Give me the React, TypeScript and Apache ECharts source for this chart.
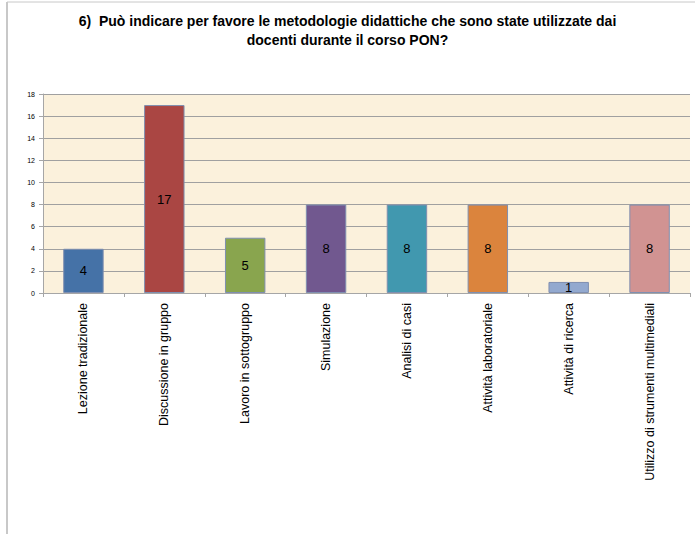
import React, { useEffect, useRef } from "react";
import * as echarts from "echarts";

const categories = [
  "Lezione tradizionale",
  "Discussione in gruppo",
  "Lavoro in sottogruppo",
  "Simulazione",
  "Analisi di casi",
  "Attività laboratoriale",
  "Attività di ricerca",
  "Utilizzo di strumenti multimediali",
];
const values = [4, 17, 5, 8, 8, 8, 1, 8];
const barColors = ["#4572A7", "#AA4643", "#89A54E", "#71588F", "#4198AF", "#DB843D", "#93A9CF", "#D19392"];
const titleText = "6)  Può indicare per favore le metodologie didattiche che sono state utilizzate dai\ndocenti durante il corso PON?";

export default function App() {
  const ref = useRef<HTMLDivElement>(null);
  useEffect(() => {
    const chart = echarts.init(ref.current!, null, { renderer: "svg" });
    chart.setOption({
      animation: false,
      backgroundColor: "#ffffff",
      title: {
        text: titleText,
        left: "center",
        top: 6,
        textStyle: { fontFamily: "Liberation Sans", fontSize: 14, fontWeight: "bold", color: "#000", lineHeight: 19 },
      },
      graphic: [
        { type: "line", shape: { x1: 7, y1: 2, x2: 7, y2: 534 }, style: { stroke: "#C8C8C8", lineWidth: 2 } },
        { type: "line", shape: { x1: 7, y1: 2, x2: 695, y2: 2 }, style: { stroke: "#C8C8C8", lineWidth: 1 } },
      ],
      grid: { left: 43, right: 5, top: 94, bottom: 241, backgroundColor: "#FBF1DC", show: true, borderWidth: 0 },
      xAxis: {
        type: "category",
        data: categories,
        axisLine: { lineStyle: { color: "#A6A6A6" } },
        axisTick: { show: true, length: 4, lineStyle: { color: "#A6A6A6" } },
        axisLabel: { rotate: 90, interval: 0, fontFamily: "Liberation Sans", fontSize: 12.5, color: "#000", margin: 10 },
      },
      yAxis: {
        type: "value",
        min: 0,
        max: 18,
        interval: 2,
        axisLine: { show: true, lineStyle: { color: "#A6A6A6" } },
        axisTick: { show: true, length: 4, lineStyle: { color: "#A6A6A6" } },
        splitLine: { lineStyle: { color: "#A0A0A0", width: 1 } },
        axisLabel: { fontFamily: "Liberation Sans", fontSize: 7, color: "#000", margin: 8 },
      },
      series: [
        {
          type: "bar",
          data: values.map((v, i) => ({ value: v, itemStyle: { color: barColors[i] } })),
          barWidth: "50%",
          itemStyle: { borderColor: "#7F8FB0", borderWidth: 1 },
          label: { show: true, position: "inside", color: "#000", fontFamily: "Liberation Sans", fontSize: 13 },
        },
      ],
    });
    return () => chart.dispose();
  }, []);
  return <div ref={ref} style={{ width: 695, height: 534, position: "absolute", left: 0, top: 0 }} />;
}
